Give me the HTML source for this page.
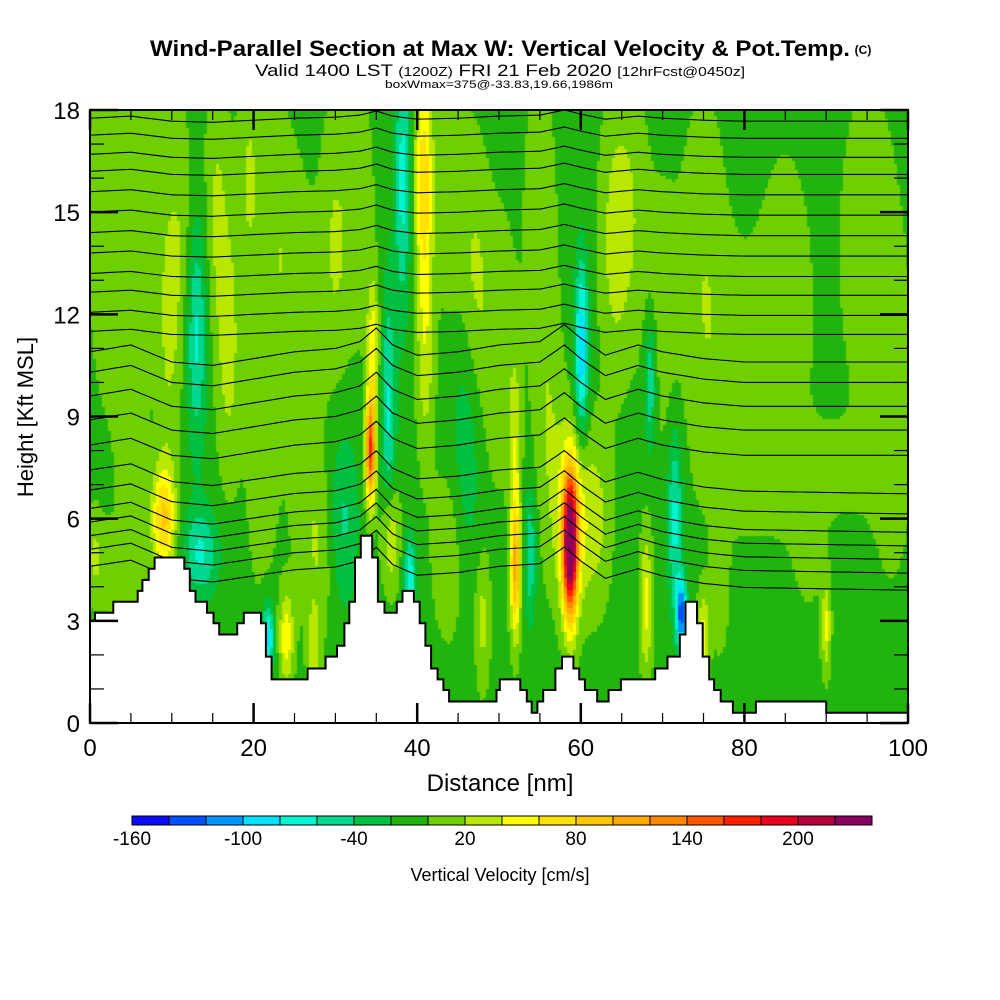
<!DOCTYPE html>
<html><head><meta charset="utf-8"><style>
html,body{margin:0;padding:0;background:#fff;width:1000px;height:1000px;overflow:hidden}
#wrap{position:relative;width:1000px;height:1000px}
canvas{position:absolute;left:90px;top:110px}
svg{position:absolute;left:0;top:0}
text{font-family:"Liberation Sans",sans-serif;fill:#000}
</style></head><body>
<div id="wrap">
<canvas id="field" width="818" height="613"></canvas>
<svg id="svg" width="1000" height="1000">
<text x="500" y="56" text-anchor="middle" font-size="22" font-weight="bold" textLength="700" lengthAdjust="spacingAndGlyphs">Wind-Parallel Section at Max W: Vertical Velocity &amp; Pot.Temp.</text>
<text x="863" y="54" text-anchor="middle" font-size="12" font-weight="bold">(C)</text>
<text x="500" y="76" text-anchor="middle" font-size="17" textLength="490" lengthAdjust="spacingAndGlyphs">Valid 1400 LST <tspan font-size="13">(1200Z)</tspan> FRI 21 Feb 2020 <tspan font-size="13">[12hrFcst@0450z]</tspan></text>
<text x="499" y="88" text-anchor="middle" font-size="11" textLength="228" lengthAdjust="spacingAndGlyphs">boxWmax=375@-33.83,19.66,1986m</text>
<g id="lines"></g>
<g id="terrain"></g>
<g id="axes"></g>
<text x="500" y="791" text-anchor="middle" font-size="24">Distance [nm]</text>
<text transform="translate(33,417) rotate(-90)" text-anchor="middle" font-size="22">Height [Kft MSL]</text>
<g id="cbar"></g>
<text x="500" y="881" text-anchor="middle" font-size="18">Vertical Velocity [cm/s]</text>
</svg>
</div>
<script>
// ---- data ----
const xTicks=[0,20,40,60,80,100];
const yTicks=[0,3,6,9,12,15,18];
const cbarLabels=[-160,-100,-40,20,80,140,200];
const binColors=['#0a0aff','#0050ff','#0096ff','#00e0ff','#00f5d0','#00d890','#00c040','#22b40e','#6ed000','#b8e800','#ffff00','#ffe000','#ffc800','#ffaa00','#ff8800','#ff5500','#ff2000','#e8001e','#b80040','#880060'];
const baseW=-8;
// features: [center nm, center kft, width nm, width kft, cm/s]
const wFeatures=[[2,15,1.2,4,25],[5,10,1,4,25],[9,6,0.8,1.2,90],[9.5,11,0.8,3,25],[13,11.5,0.7,2.5,-60],[13.5,5,1.2,1,-55],[15.5,15,0.8,3,30],[17,11,0.8,3,35],[19.5,16,0.8,2.5,30],[21,8,1,3,25],[21.8,2.5,0.4,0.8,-80],[24,2.5,0.5,1,60],[27.3,2,0.4,1,40],[26,10,1.2,4,25],[30,14,1,3,30],[31,6,1,2,-35],[34.3,8,0.35,1.2,170],[34.6,11,0.4,1.5,60],[36.5,9,0.5,3,-55],[36.7,5.5,0.6,1.3,60],[39.1,4.2,0.4,1,-70],[38.2,16,0.5,3,-60],[40.8,16,0.6,2.5,80],[41,11,0.6,2.5,40],[44,5,1.2,2,25],[46,8,1,3,-30],[48,3,0.5,1.5,35],[47,13,1,3,30],[52,4.5,0.35,1.5,110],[52,8,0.4,2,40],[53.8,5,0.4,1.5,-50],[58.7,5.2,0.5,1.6,240],[58.9,6,1.2,2,60],[60.1,11,0.45,2,-90],[68,3.5,0.4,1.6,55],[72.3,3.2,0.35,0.8,-120],[71.5,6,0.5,2,-60],[75,2.5,0.4,1,55],[77,4,0.6,1.5,22],[90,2.8,0.3,1,50],[88,5,1.5,2,10],[68.5,10,0.4,1.5,-55],[55,15,1,3,25],[64,14,1,3,30],[75,13,1.5,4,25],[85,12,2,4,18],[95,14,2,4,18],[82,7,3,1,14],[92,7.5,3,1,16],[3,4.5,1.5,1,20],[0.5,5,0.6,1,25],[7,16,1.2,3,20],[11,14,1,3,25],[23,14,1.2,3,25],[28,5,1,2,25],[33,15,1,3,20],[44,16,1,3,25],[50,11,1.2,3,25],[56,9,1,3,25],[62,6,1,2,30],[66,15,1.2,3,25],[70,12,1.2,3,20],[79,10,2,3,18],[98,9,1.5,4,18]];
// terrain steps: [start nm, height kft]
const terrain=[[0,3.0],[0.61,3.24],[2.85,3.56],[5.83,3.88],[6.4,4.2],[7.17,4.53],[7.9,4.86],[11.53,4.53],[12.2,3.88],[12.9,3.56],[14.3,3.24],[15.1,2.93],[15.8,2.6],[18.0,2.93],[18.8,3.24],[20.9,2.93],[21.5,1.95],[22.2,1.28],[26.6,1.6],[28.8,1.95],[30.2,2.27],[31.1,2.93],[31.7,3.56],[32.4,4.86],[33.1,5.5],[34.5,4.86],[35.2,3.56],[36.0,3.24],[37.5,3.56],[38.2,3.88],[39.6,3.56],[40.3,2.93],[41.0,2.27],[41.7,1.6],[42.5,1.28],[43.2,0.97],[43.9,0.63],[49.7,0.97],[50.1,1.28],[52.6,0.97],[53.4,0.63],[54.0,0.3],[54.7,0.63],[55.4,0.97],[56.9,1.6],[57.7,1.95],[59.1,1.6],[59.8,1.28],[60.5,0.97],[62.0,0.63],[63.4,0.97],[64.9,1.28],[69.1,1.6],[70.6,1.95],[72.1,2.6],[72.8,3.56],[74.2,2.93],[74.9,1.95],[75.7,1.28],[76.3,0.97],[77.1,0.63],[78.6,0.3],[81.4,0.63],[90.0,0.3]];
// isentrope heights at x=0 (kft)
const thetaLevels=[17.76,17.26,16.7,16.2,15.6,15.0,14.4,13.8,13.2,12.65,12.06,11.5,10.9,10.3,9.6,8.9,8.16,7.43,6.84,6.3,5.9,5.5,5.1,4.6];
const dispX=[0,5,10,15,20,25,30,33,35,37,40,45,50,55,58,60,63,67,70,75,80,90,100];
const dispH=[0,0.2,-0.3,-0.4,-0.2,0,0.1,0.3,0.7,0.2,-0.1,0,0.2,0.3,0.8,0.4,-0.1,0.2,0,-0.2,-0.3,-0.3,-0.3];

// ---- axes ----
const L=90,R=908,T=110,B=723;
const X=v=>L+(v/100)*(R-L);
const Y=h=>B-(h/18)*(B-T);
const NS='http://www.w3.org/2000/svg';
function mk(tag,attrs,parent){const e=document.createElementNS(NS,tag);for(const k in attrs)e.setAttribute(k,attrs[k]);parent.appendChild(e);return e;}

// field
const ctx=document.getElementById('field').getContext('2d');
function wAt(x,h){let v=baseW;for(const f of wFeatures){const dx=(x-f[0])/(f[2]*1.8),dh=(h-f[1])/(f[3]*1.3);v+=f[4]*Math.exp(-dx*dx-dh*dh);}return v;}
const cs=3;
for(let px=0;px<818;px+=cs){for(let py=0;py<613;py+=cs){
  const x=(px+cs/2)/818*100,h=18-(py+cs/2)/613*18;
  let i=Math.floor((wAt(x,h)+160)/20);i=Math.max(0,Math.min(19,i));
  ctx.fillStyle=binColors[i];ctx.fillRect(px,py,cs,cs);
}}

// isentropes
const lg=document.getElementById('lines');
function interp(x){for(let i=0;i<dispX.length-1;i++){if(x<=dispX[i+1]){const t=(x-dispX[i])/(dispX[i+1]-dispX[i]);return dispH[i]+t*(dispH[i+1]-dispH[i]);}}return dispH[dispH.length-1];}
thetaLevels.forEach((h0,k)=>{
  const sc=h0>11?0.3:1;
  let d='';
  for(let x=0;x<=100;x+=0.5){const h=Math.min(18,h0+interp(x)*sc-0.004*x*(h0<8?1:0));d+=(x?'L':'M')+X(x).toFixed(1)+','+Y(h).toFixed(1);}
  const p=mk('path',{d:d,fill:'none',stroke:'#000','stroke-width':1.1},lg);
  
  
});

// terrain
const tg=document.getElementById('terrain');
let td='M'+X(0)+','+Y(0);
terrain.forEach((s,i)=>{const xe=i<terrain.length-1?terrain[i+1][0]:100;td+='L'+X(s[0]).toFixed(1)+','+Y(s[1]).toFixed(1)+'L'+X(xe).toFixed(1)+','+Y(s[1]).toFixed(1);});
td+='L'+X(100)+','+Y(0)+'Z';
const tp=mk('path',{d:td,fill:'#fff',stroke:'#000','stroke-width':2},tg);



// axes
const ag=document.getElementById('axes');
const fr=mk('rect',{x:L,y:T,width:R-L,height:B-T,fill:'none',stroke:'#000','stroke-width':2},ag);


for(let v=0;v<=100;v+=5){const maj=v%20===0,len=maj?20:10;
  mk('line',{x1:X(v),x2:X(v),y1:B,y2:B-len,stroke:'#000','stroke-width':maj?2.5:1.2},ag);
  mk('line',{x1:X(v),x2:X(v),y1:T,y2:T+len,stroke:'#000','stroke-width':maj?2.5:1.2},ag);}
for(let h=0;h<=18;h++){const maj=h%3===0,len=maj?28:14;
  mk('line',{x1:L,x2:L+len,y1:Y(h),y2:Y(h),stroke:'#000','stroke-width':maj?2.5:1.2},ag);
  mk('line',{x1:R,x2:R-len,y1:Y(h),y2:Y(h),stroke:'#000','stroke-width':maj?2.5:1.2},ag);}
xTicks.forEach(v=>{const t=mk('text',{x:X(v),y:756,'text-anchor':'middle','font-size':24},ag);t.textContent=v;
  
  });
yTicks.forEach(v=>{const t=mk('text',{x:80,y:Y(v)+9,'text-anchor':'end','font-size':24},ag);t.textContent=v;
  
  });

// colorbar
const cg=document.getElementById('cbar');
binColors.forEach((c,i)=>{const r=mk('rect',{x:132+37*i,y:816,width:37,height:9,fill:c,stroke:'#000','stroke-width':1},cg);
  
  });
cbarLabels.forEach(v=>{const t=mk('text',{x:132+(v+160)/20*37,y:845,'text-anchor':'middle','font-size':19},cg);t.textContent=v;
  
  });
</script>
</body></html>
